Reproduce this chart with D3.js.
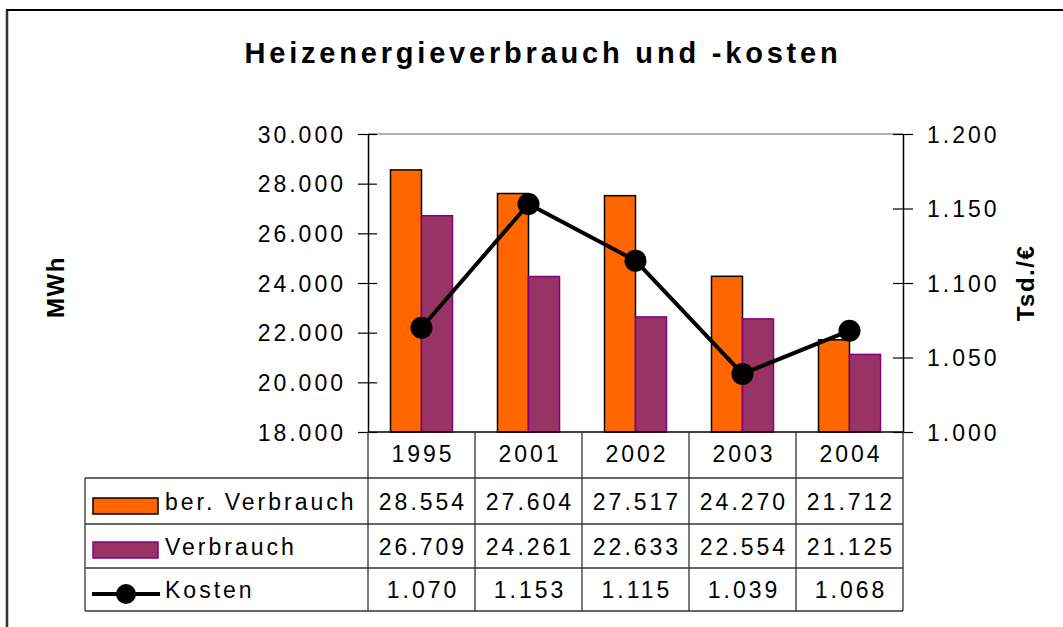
<!DOCTYPE html>
<html>
<head>
<meta charset="utf-8">
<script src="https://cdn.jsdelivr.net/npm/d3@7"></script>
<style>
  body { margin: 0; background: #fff; }
  svg { display: block; font-family: "Liberation Sans", Arial, sans-serif; }
</style>
</head>
<body>
<svg id="chart" width="1063" height="627"></svg>
<script>
// data
var years = ["1995", "2001", "2002", "2003", "2004"];
var berVerbrauch = [28554, 27604, 27517, 24270, 21712];
var verbrauch = [26709, 24261, 22633, 22554, 21125];
var kosten = [1070, 1153, 1115, 1039, 1068];
var leftTicks = [18000, 20000, 22000, 24000, 26000, 28000, 30000];
var rightTicks = [1000, 1050, 1100, 1150, 1200];
var seriesNames = ["ber. Verbrauch", "Verbrauch", "Kosten"];

var de = d3.formatLocale({decimal: ",", thousands: ".", grouping: [3], currency: ["", " €"]});
var fmt = de.format(",.0f");

var svg = d3.select("#chart");
var plot = {left: 368, right: 903, top: 134, bottom: 432};

var x = d3.scaleBand().domain(years).range([plot.left, plot.right]).padding(0);
var bw = x.bandwidth();
var xSub = d3.scaleBand().domain(["ber", "ver"]).range([bw / 2 - 31, bw / 2 + 31]);
var y = d3.scaleLinear().domain([18000, 30000]).range([plot.bottom, plot.top]);
var y2 = d3.scaleLinear().domain([1000, 1200]).range([plot.bottom, plot.top]);

// outer frame (only left and top visible)
svg.append("line").attr("x1", 7).attr("x2", 7).attr("y1", 10).attr("y2", 627)
    .attr("stroke", "#333").attr("stroke-width", 2.5);
svg.append("line").attr("x1", 6).attr("x2", 1063).attr("y1", 10).attr("y2", 10)
    .attr("stroke", "#000").attr("stroke-width", 2);

// title
svg.append("text")
    .attr("x", 543).attr("y", 63)
    .attr("text-anchor", "middle")
    .style("font-size", "29px").style("font-weight", "bold").style("letter-spacing", "3.8px")
    .text("Heizenergieverbrauch und -kosten");

// top border of plot area
svg.append("line").attr("x1", plot.left).attr("x2", plot.right)
    .attr("y1", plot.top).attr("y2", plot.top)
    .attr("stroke", "#999").attr("stroke-width", 1.5);

// bars
var groups = svg.append("g").selectAll("g").data(years).enter().append("g")
    .attr("transform", function (d) { return "translate(" + x(d) + ",0)"; });

groups.append("rect")
    .attr("x", xSub("ber"))
    .attr("width", xSub.bandwidth())
    .attr("y", function (d, i) { return y(berVerbrauch[i]); })
    .attr("height", function (d, i) { return plot.bottom - y(berVerbrauch[i]); })
    .attr("fill", "#FF6600").attr("stroke", "#000").attr("stroke-width", 1.5);

groups.append("rect")
    .attr("x", xSub("ver"))
    .attr("width", xSub.bandwidth())
    .attr("y", function (d, i) { return y(verbrauch[i]); })
    .attr("height", function (d, i) { return plot.bottom - y(verbrauch[i]); })
    .attr("fill", "#993366").attr("stroke", "#800080").attr("stroke-width", 1.5);

// left axis
var axL = svg.append("g").attr("transform", "translate(" + plot.left + ",0)")
    .call(d3.axisLeft(y).tickValues(leftTicks).tickFormat(fmt).tickSize(10).tickSizeOuter(0));
axL.selectAll(".tick line").attr("x1", -10).attr("x2", 9).attr("stroke", "#000").attr("stroke-width", 1.2);
axL.select(".domain").attr("stroke", "#000").attr("stroke-width", 1.5);
axL.selectAll(".tick text").attr("x", -22).attr("dy", "0.35em")
    .style("font-size", "23px").style("letter-spacing", "3px").style("font-family", "Liberation Sans, Arial").attr("fill", "#000");

// right axis
var axR = svg.append("g").attr("transform", "translate(" + plot.right + ",0)")
    .call(d3.axisRight(y2).tickValues(rightTicks).tickFormat(fmt).tickSize(10).tickSizeOuter(0));
axR.selectAll(".tick line").attr("x1", -10).attr("x2", 10).attr("stroke", "#000").attr("stroke-width", 1.2);
axR.select(".domain").attr("stroke", "#000").attr("stroke-width", 1.5);
axR.selectAll(".tick text").attr("x", 24).attr("dy", "0.35em")
    .style("font-size", "23px").style("letter-spacing", "3px").style("font-family", "Liberation Sans, Arial").attr("fill", "#000");

// bottom axis line
svg.append("line").attr("x1", plot.left).attr("x2", plot.right)
    .attr("y1", plot.bottom).attr("y2", plot.bottom)
    .attr("stroke", "#000").attr("stroke-width", 1.5);

// axis titles
svg.append("text")
    .attr("transform", "translate(64,287) rotate(-90)")
    .attr("text-anchor", "middle")
    .style("font-size", "24px").style("font-weight", "bold").style("letter-spacing", "1.5px")
    .text("MWh");
svg.append("text")
    .attr("transform", "translate(1034,283) rotate(-90)")
    .attr("text-anchor", "middle")
    .style("font-size", "24px").style("font-weight", "bold").style("letter-spacing", "1.5px")
    .text("Tsd./€");

// Kosten line
var line = d3.line()
    .x(function (d, i) { return x(years[i]) + bw / 2; })
    .y(function (d) { return y2(d); });
svg.append("path").datum(kosten)
    .attr("d", line)
    .attr("fill", "none").attr("stroke", "#000").attr("stroke-width", 4);
svg.append("g").selectAll("circle").data(kosten).enter().append("circle")
    .attr("cx", function (d, i) { return x(years[i]) + bw / 2; })
    .attr("cy", function (d) { return y2(d); })
    .attr("r", 11).attr("fill", "#000");

// data table
var tableLeft = 85;
var rowTops = [478, 524, 568, 611];
var gridColor = "#333";
var table = svg.append("g");

// vertical lines at category boundaries
var bounds = years.map(function (d) { return x(d); }).concat([plot.right]);
table.selectAll("line.v").data(bounds).enter().append("line")
    .attr("x1", function (d) { return d; }).attr("x2", function (d) { return d; })
    .attr("y1", plot.bottom).attr("y2", rowTops[3])
    .attr("stroke", gridColor).attr("stroke-width", 1.3);
table.append("line").attr("x1", tableLeft).attr("x2", tableLeft)
    .attr("y1", rowTops[0]).attr("y2", rowTops[3])
    .attr("stroke", gridColor).attr("stroke-width", 1.3);
table.selectAll("line.h").data(rowTops).enter().append("line")
    .attr("x1", tableLeft).attr("x2", plot.right)
    .attr("y1", function (d) { return d; }).attr("y2", function (d) { return d; })
    .attr("stroke", gridColor).attr("stroke-width", 1.3);

// year header
table.selectAll("text.year").data(years).enter().append("text")
    .attr("x", function (d) { return x(d) + bw / 2 + 1.5; })
    .attr("y", 462)
    .attr("text-anchor", "middle")
    .style("font-size", "23px").style("letter-spacing", "3px")
    .text(function (d) { return d; });

var rows = [berVerbrauch, verbrauch, kosten];
rows.forEach(function (vals, r) {
    var mid = (rowTops[r] + rowTops[r + 1]) / 2;
    table.selectAll("text.r" + r).data(vals).enter().append("text")
        .attr("x", function (d, i) { return x(years[i]) + bw / 2 + 1.5; })
        .attr("y", mid + 8.5)
        .attr("text-anchor", "middle")
        .style("font-size", "23px").style("letter-spacing", "3px")
        .text(function (d) { return fmt(d); });
    table.append("text")
        .attr("x", 165).attr("y", mid + 8.5)
        .style("font-size", "23px").style("letter-spacing", "3px")
        .text(seriesNames[r]);
});

// legend keys
table.append("rect").attr("x", 93).attr("y", 498).attr("width", 65).attr("height", 16)
    .attr("fill", "#FF6600").attr("stroke", "#000").attr("stroke-width", 1.5);
table.append("rect").attr("x", 93).attr("y", 542).attr("width", 65).attr("height", 16)
    .attr("fill", "#993366").attr("stroke", "#800080").attr("stroke-width", 1.5);
table.append("line").attr("x1", 92).attr("x2", 160).attr("y1", 594).attr("y2", 594)
    .attr("stroke", "#000").attr("stroke-width", 4);
table.append("circle").attr("cx", 126).attr("cy", 594).attr("r", 10).attr("fill", "#000");
</script>
</body>
</html>
